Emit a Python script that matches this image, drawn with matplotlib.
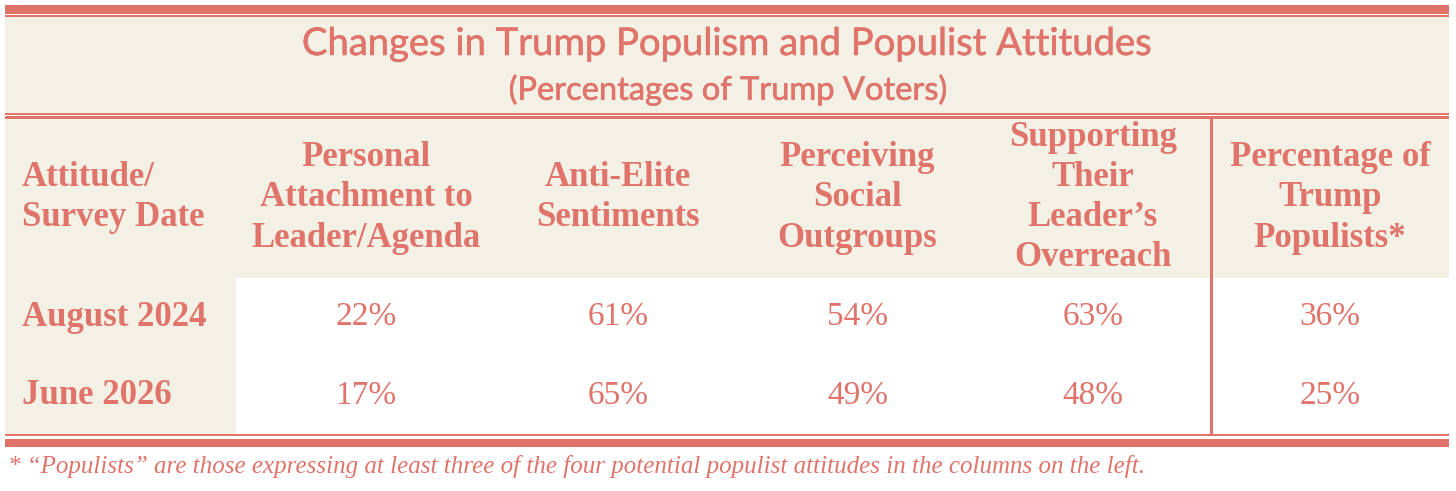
import matplotlib.pyplot as plt
import matplotlib.patheffects as pe
from matplotlib.patches import Rectangle

# Table content
title = 'Changes in Trump Populism and Populist Attitudes'
subtitle = '(Percentages of Trump Voters)'
headers = [
    ['Attitude/', 'Survey Date'],
    ['Personal', 'Attachment to', 'Leader/Agenda'],
    ['Anti-Elite', 'Sentiments'],
    ['Perceiving', 'Social', 'Outgroups'],
    ['Supporting', 'Their', 'Leader\u2019s', 'Overreach'],
    ['Percentage of', 'Trump', 'Populists*'],
]
row_labels = ['August 2024', 'June 2026']
values = [
    [22, 61, 54, 63, 36],
    [17, 65, 49, 48, 25],
]
footnote = ('* \u201cPopulists\u201d are those expressing at least three of the four '
            'potential populist attitudes in the columns on the left.')

# Styling
salmon = '#E0736A'
cream = '#F3F1E5'
W, H = 1456, 491
left, right = 5, 1449
col_edges = [5, 236, 496, 740, 975, 1211, 1449]
row_edges = [118, 278, 356, 435]
line_step = 40

fig = plt.figure(figsize=(W / 100, H / 100), dpi=100)
ax = fig.add_axes([0, 0, 1, 1])
ax.set_xlim(0, W)
ax.set_ylim(H, 0)
ax.axis('off')


def band(y0, y1, x0=left, x1=right, color=salmon):
    ax.add_patch(Rectangle((x0, y0), x1 - x0, y1 - y0, color=color, lw=0))


# title block
band(17, 113, color=cream)
band(5, 14)
band(15.3, 16.7)
band(113.3, 114.7)
band(116, 118.7)

# light stroke so the sans title looks medium weight
thick = [pe.withStroke(linewidth=0.4, foreground=salmon)]
ax.text(W / 2, 44, title, ha='center', va='center', color=salmon,
        fontsize=27.5, family='Lato', path_effects=thick)
ax.text(W / 2, 90, subtitle, ha='center', va='center', color=salmon,
        fontsize=23.5, family='Lato', path_effects=thick)

# header row and first column backgrounds
band(row_edges[0] + 0.7, row_edges[1], color=cream)
band(row_edges[1], row_edges[-1], x1=col_edges[1], color=cream)

# header text
hy = (row_edges[0] + row_edges[1]) / 2
for c, lines in enumerate(headers):
    n = len(lines)
    for i, s in enumerate(lines):
        y = hy + (i - (n - 1) / 2) * line_step
        if c == 0:
            ax.text(22, y, s, ha='left', va='center', color=salmon,
                    fontsize=25, fontweight='bold', family='Liberation Serif')
        else:
            x = (col_edges[c] + col_edges[c + 1]) / 2
            ax.text(x, y, s, ha='center', va='center', color=salmon,
                    fontsize=25, fontweight='bold', family='Liberation Serif')

# data rows
for r, (lab, vals) in enumerate(zip(row_labels, values)):
    y = (row_edges[r + 1] + row_edges[r + 2]) / 2
    ax.text(22, y, lab, ha='left', va='center', color=salmon,
            fontsize=25, fontweight='bold', family='Liberation Serif')
    for c, v in enumerate(vals):
        x = (col_edges[c + 1] + col_edges[c + 2]) / 2
        ax.text(x, y, f'{v}%', ha='center', va='center', color=salmon,
                fontsize=24, family='Liberation Serif')

# divider before the populist column
ax.add_patch(Rectangle((col_edges[5] - 1.5, row_edges[0]), 3,
                       row_edges[-1] - row_edges[0], color=salmon, lw=0))

# bottom rules
band(434, 436)
band(439.3, 446.7)

ax.text(8, 467, footnote, ha='left', va='center', color=salmon,
        fontsize=18, style='italic', family='Liberation Serif')

fig.savefig('out.png', dpi=100, facecolor='white')
